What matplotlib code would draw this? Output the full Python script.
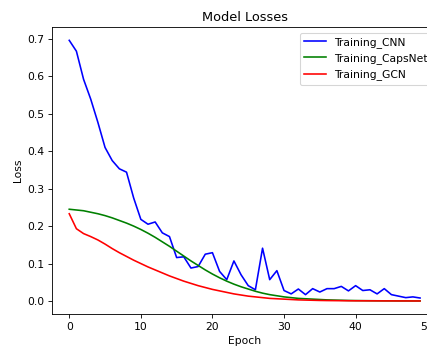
import matplotlib
matplotlib.use("Agg")
import matplotlib.pyplot as plt

epochs = list(range(50))

cnn = [0.696, 0.667, 0.592, 0.539, 0.477, 0.410, 0.375, 0.353, 0.344, 0.275,
       0.218, 0.205, 0.211, 0.182, 0.172, 0.116, 0.118, 0.088, 0.092, 0.125,
       0.129, 0.079, 0.057, 0.107, 0.070, 0.041, 0.030, 0.141, 0.057, 0.081,
       0.028, 0.019, 0.032, 0.017, 0.033, 0.024, 0.033, 0.033, 0.039, 0.027,
       0.041, 0.028, 0.030, 0.019, 0.033, 0.017, 0.013, 0.009, 0.011, 0.008]

capsnet = [0.245, 0.243, 0.241, 0.237, 0.233, 0.228, 0.222, 0.215, 0.208, 0.200,
           0.191, 0.181, 0.170, 0.158, 0.146, 0.133, 0.120, 0.107, 0.095, 0.083,
           0.072, 0.062, 0.053, 0.045, 0.038, 0.032, 0.026, 0.021, 0.017, 0.014,
           0.011, 0.009, 0.007, 0.006, 0.005, 0.004, 0.003, 0.0025, 0.002, 0.0015,
           0.0012, 0.001, 0.0008, 0.0006, 0.0005, 0.0004, 0.0003, 0.0003, 0.0002, 0.0002]

gcn = [0.233, 0.193, 0.180, 0.172, 0.163, 0.152, 0.140, 0.129, 0.119, 0.109,
       0.100, 0.091, 0.083, 0.075, 0.067, 0.060, 0.053, 0.047, 0.041, 0.036,
       0.031, 0.027, 0.023, 0.019, 0.016, 0.013, 0.011, 0.009, 0.007, 0.006,
       0.005, 0.004, 0.003, 0.0025, 0.002, 0.0015, 0.0012, 0.001, 0.0008, 0.0006,
       0.0005, 0.0005, 0.0004, 0.0004, 0.0003, 0.0003, 0.0002, 0.0002, 0.0001, 0.0001]

W, H = 427, 347
dpi = 77.3
fig = plt.figure(figsize=(W / dpi, H / dpi), dpi=dpi)
left, right, top, bottom = 51.7, 437.6, 27.3, 314.0
ax = fig.add_axes([left / W, 1 - bottom / H, (right - left) / W, (bottom - top) / H])

ax.plot(epochs, cnn, color="blue", label="Training_CNN")
ax.plot(epochs, capsnet, color="green", label="Training_CapsNet")
ax.plot(epochs, gcn, color="red", label="Training_GCN")

ax.set_title("Model Losses")
ax.set_xlabel("Epoch")
ax.set_ylabel("Loss")
ax.legend(loc="upper right")

fig.savefig("out.png", dpi=dpi)
